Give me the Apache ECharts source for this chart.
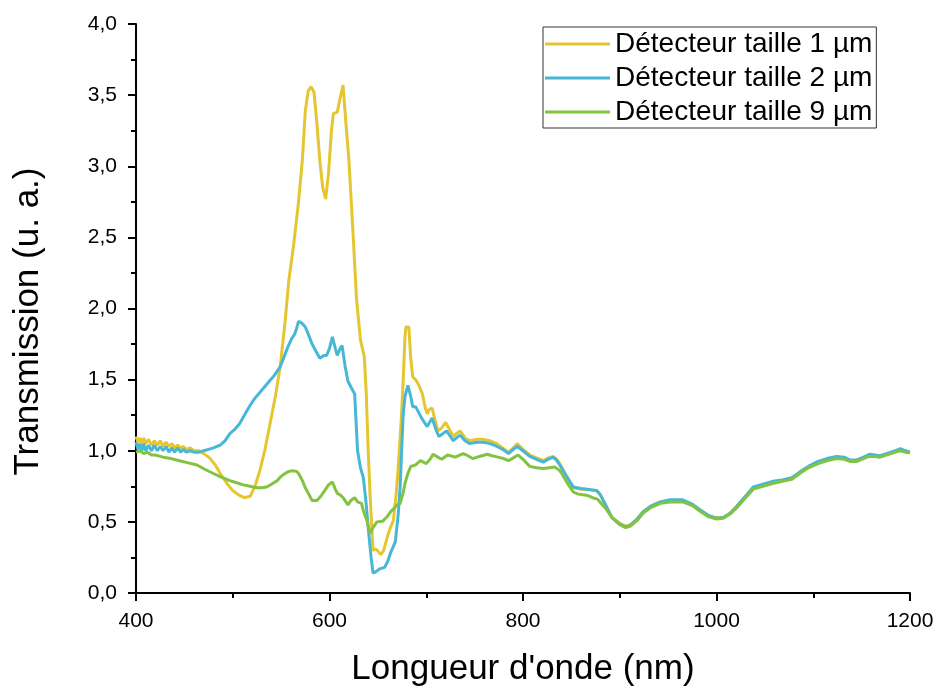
<!DOCTYPE html>
<html><head><meta charset="utf-8">
<script src="https://cdn.jsdelivr.net/npm/echarts@6/dist/echarts.min.js"></script>
<style>html,body{margin:0;padding:0;background:#fff}#c{width:937px;height:688px}</style>
</head><body><div id="c"></div>
<script>
var seriesNames = ['Détecteur taille 1 µm', 'Détecteur taille 2 µm', 'Détecteur taille 9 µm'];
var xTicks = [400, 600, 800, 1000, 1200];

var wl1 = [400,402,404,406,408,410,413,416,419,422,425,428,431,434,437,440,443,446,449,452,456,460,465,470,476,482,488,494,500,506,512,518,523,528,533,538,544,549,554,558,563,568,572,575,578,581,584,587,590,593,596,599,602,604,608,611,614,617,620,624,628,632,636,638,640,642,645,648,650,653,656,660,663,666,669,671,674,676,678,679,682,684,686,690,693,696,699,701,703,706,709,712,716,720,724,728,731,735,740,745,752,759,766,773,779,785,790,794,800,807,814,821,826,831,835,838,845,852,860,866,872,876,880,886,892,900,906,911,918,924,932,942,952,965,975,983,992,1000,1007,1014,1021,1030,1038,1048,1058,1068,1078,1086,1095,1105,1114,1124,1132,1138,1145,1152,1158,1164,1169,1178,1185,1190,1195,1200];
var t1 = [1.10,1.06,1.09,1.05,1.09,1.05,1.08,1.04,1.07,1.04,1.07,1.03,1.06,1.03,1.05,1.02,1.04,1.02,1.03,1.01,1.02,1.00,1.00,0.98,0.95,0.90,0.83,0.77,0.72,0.69,0.67,0.68,0.75,0.86,1.00,1.17,1.38,1.59,1.90,2.20,2.45,2.75,3.05,3.39,3.53,3.56,3.52,3.30,3.04,2.85,2.77,2.95,3.25,3.37,3.38,3.48,3.57,3.30,3.05,2.57,2.06,1.78,1.66,1.40,1.00,0.68,0.30,0.31,0.30,0.27,0.30,0.40,0.46,0.51,0.70,0.88,1.20,1.47,1.80,1.87,1.87,1.65,1.52,1.49,1.45,1.40,1.30,1.26,1.29,1.30,1.22,1.14,1.16,1.20,1.15,1.10,1.12,1.14,1.09,1.07,1.08,1.08,1.07,1.05,1.02,0.99,1.02,1.05,1.01,0.97,0.95,0.93,0.95,0.96,0.94,0.91,0.82,0.74,0.73,0.73,0.72,0.72,0.69,0.61,0.53,0.49,0.47,0.48,0.52,0.57,0.61,0.64,0.65,0.65,0.62,0.58,0.54,0.53,0.53,0.56,0.61,0.68,0.74,0.76,0.78,0.79,0.81,0.85,0.89,0.92,0.94,0.955,0.95,0.93,0.93,0.95,0.97,0.965,0.96,0.98,1.00,1.01,1.00,0.99];

var wl2 = [400,402,404,406,408,410,413,416,419,422,425,428,431,434,437,440,443,446,449,452,456,460,465,470,475,480,487,492,497,502,507,512,518,523,528,533,538,543,549,553,557,561,564,566,568,571,575,578,582,586,590,594,597,600,603,606,608,611,613,616,619,622,626,629,632,635,638,640,643,645,648,652,657,660,663,668,671,673,676,678,681,684,686,689,691,696,701,706,710,713,717,721,725,728,731,735,740,745,752,759,766,773,779,785,790,794,800,807,814,821,826,831,835,838,845,852,860,866,872,876,880,886,892,900,906,911,918,924,932,942,952,965,975,983,992,1000,1007,1014,1021,1030,1038,1048,1058,1068,1078,1086,1095,1105,1114,1124,1132,1138,1145,1152,1158,1164,1169,1178,1185,1190,1195,1200];
var t2 = [1.06,1.01,1.05,1.00,1.05,1.00,1.04,1.00,1.04,1.00,1.03,1.00,1.03,0.99,1.02,0.99,1.02,0.99,1.01,0.99,1.00,0.99,0.99,1.00,1.01,1.02,1.04,1.07,1.12,1.15,1.19,1.25,1.32,1.37,1.41,1.45,1.49,1.53,1.59,1.66,1.73,1.79,1.82,1.86,1.91,1.90,1.87,1.82,1.75,1.70,1.65,1.67,1.67,1.72,1.80,1.72,1.67,1.72,1.74,1.60,1.49,1.45,1.40,1.00,0.88,0.81,0.62,0.46,0.25,0.14,0.15,0.17,0.18,0.22,0.28,0.36,0.55,0.74,1.24,1.38,1.46,1.38,1.31,1.31,1.30,1.22,1.17,1.23,1.15,1.10,1.12,1.14,1.10,1.07,1.09,1.11,1.07,1.05,1.06,1.06,1.05,1.03,1.01,0.98,1.01,1.03,1.00,0.96,0.94,0.92,0.94,0.955,0.93,0.90,0.82,0.745,0.735,0.73,0.725,0.72,0.69,0.61,0.53,0.485,0.465,0.475,0.52,0.57,0.61,0.64,0.655,0.655,0.625,0.585,0.545,0.525,0.53,0.56,0.61,0.68,0.745,0.765,0.785,0.795,0.81,0.85,0.89,0.925,0.945,0.96,0.955,0.935,0.935,0.955,0.975,0.97,0.965,0.985,1.00,1.015,1.00,0.99];

var wl9 = [400,404,408,412,416,420,428,436,445,454,463,471,480,488,497,504,511,518,525,530,535,540,546,550,554,558,562,566,568,572,575,579,582,587,591,595,599,603,606,608,611,614,617,619,622,626,629,633,635,639,642,645,649,655,660,663,666,670,673,676,678,681,684,689,694,700,704,707,712,716,722,730,738,743,748,755,763,768,774,780,785,790,795,800,807,814,821,827,833,838,841,846,852,857,862,867,872,877,882,886,892,900,906,911,918,924,932,942,952,965,975,983,992,1000,1007,1014,1021,1030,1038,1048,1058,1068,1078,1086,1095,1105,1114,1124,1132,1138,1145,1152,1158,1164,1169,1178,1185,1190,1195,1200];
var t9 = [0.99,1.00,0.98,0.99,0.97,0.97,0.955,0.945,0.93,0.915,0.90,0.87,0.84,0.815,0.79,0.775,0.76,0.75,0.74,0.74,0.745,0.765,0.79,0.82,0.84,0.855,0.86,0.855,0.84,0.79,0.74,0.69,0.65,0.65,0.68,0.72,0.76,0.78,0.73,0.70,0.69,0.67,0.64,0.62,0.65,0.67,0.64,0.63,0.58,0.50,0.42,0.46,0.50,0.505,0.54,0.57,0.59,0.62,0.63,0.70,0.77,0.84,0.89,0.90,0.93,0.91,0.94,0.975,0.955,0.94,0.97,0.955,0.98,0.965,0.945,0.96,0.975,0.965,0.955,0.945,0.93,0.95,0.97,0.94,0.89,0.88,0.875,0.88,0.885,0.86,0.83,0.77,0.71,0.695,0.69,0.685,0.67,0.66,0.62,0.59,0.53,0.48,0.46,0.47,0.51,0.56,0.60,0.63,0.64,0.64,0.615,0.575,0.535,0.52,0.525,0.555,0.60,0.67,0.73,0.75,0.77,0.785,0.80,0.84,0.88,0.91,0.93,0.945,0.94,0.925,0.925,0.945,0.96,0.96,0.955,0.975,0.99,1.00,0.99,0.985];

var colors = ['#E5C631', '#46B8D6', '#82C341'];
function pairs(xs, ys){ return xs.map(function(x,i){ return [x, ys[i]]; }); }

var font = 'Liberation Sans, Arial, sans-serif';
var chart = echarts.init(document.getElementById('c'), null, {renderer:'canvas'});
chart.setOption({
  animation: false,
  backgroundColor: '#fff',
  color: colors,
  grid: {left: 136, top: 24, right: 27, bottom: 95, containLabel: false, outerBoundsMode: 'none'},
  legend: {
    orient: 'vertical', left: 543, top: 27,
    padding: [2, 4, 1, 2], itemGap: 4,
    itemWidth: 65, itemHeight: 3, icon: 'rect',
    borderColor: '#333', borderWidth: 1, borderRadius: 0,
    textStyle: {fontFamily: font, fontSize: 28, color: '#000', lineHeight: 30},
    data: seriesNames
  },
  xAxis: {
    type: 'value', min: 400, max: 1200, interval: 200,
    name: "Longueur d'onde (nm)", nameLocation: 'middle', nameGap: 59,
    nameTextStyle: {fontFamily: font, fontSize: 35, color: '#000'},
    axisLine: {show: true, onZero: false, lineStyle: {color: '#000', width: 2}},
    axisTick: {show: true, length: 8, lineStyle: {color: '#000', width: 2}},
    minorTick: {show: true, splitNumber: 2, length: 5, lineStyle: {color: '#000', width: 2}},
    axisLabel: {fontFamily: font, fontSize: 21, color: '#000', margin: 18,
      formatter: function(v){ return xTicks.indexOf(v) >= 0 ? String(v) : ''; }},
    splitLine: {show: false}
  },
  yAxis: {
    type: 'value', min: 0, max: 4, interval: 0.5,
    name: 'Transmission (u. a.)', nameLocation: 'middle', nameGap: 90, nameRotate: 90,
    nameTextStyle: {fontFamily: font, fontSize: 35, color: '#000', padding: [0, 26, 0, 0]},
    axisLine: {show: true, lineStyle: {color: '#000', width: 2}},
    axisTick: {show: true, length: 8, lineStyle: {color: '#000', width: 2}},
    minorTick: {show: true, splitNumber: 2, length: 5, lineStyle: {color: '#000', width: 2}},
    axisLabel: {fontFamily: font, fontSize: 21, color: '#000', margin: 19,
      formatter: function(v){ return v.toFixed(1).replace('.', ','); }},
    splitLine: {show: false}
  },
  series: [
    {name: seriesNames[0], type: 'line', data: pairs(wl1, t1), showSymbol: false, symbol: 'none', lineStyle: {width: 3}, z: 2},
    {name: seriesNames[1], type: 'line', data: pairs(wl2, t2), showSymbol: false, symbol: 'none', lineStyle: {width: 3}, z: 3},
    {name: seriesNames[2], type: 'line', data: pairs(wl9, t9), showSymbol: false, symbol: 'none', lineStyle: {width: 3}, z: 4}
  ]
});
</script>
</body></html>
